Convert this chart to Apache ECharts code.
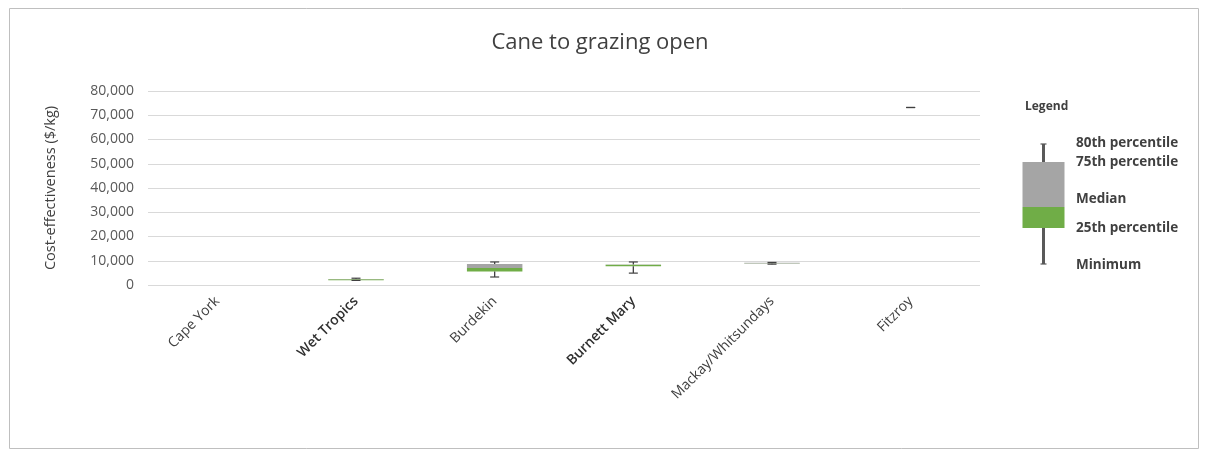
<!DOCTYPE html>
<html><head><meta charset="utf-8">
<script src="https://cdn.jsdelivr.net/npm/echarts@6/dist/echarts.min.js"></script>
<style>html,body{margin:0;padding:0;background:#fff}#c{width:1208px;height:450px}</style>
</head><body><div id="c"></div>
<script>
// ---- data ----
const categories = ['Cape York', 'Wet Tropics', 'Burdekin', 'Burnett Mary', 'Mackay/Whitsundays', 'Fitzroy'];
const minimum     = [null, 1900, 3300, 4900, 8600, 73200];
const pct25       = [null, 2000, 5600, 7700, 8750, 73200];
const median      = [null, 2400, 7000, 8400, 8900, 73200];
const pct75       = [null, 2500, 8700, 8500, 9150, 73200];
const pct80       = [null, 2800, 9500, 9500, 9300, 73200];
const boldLabels  = ['Wet Tropics', 'Burnett Mary'];
const yTicks = {min: 0, max: 80000, interval: 10000};
// legend illustration values (arbitrary scale)
const legendVals = {minimum: 0, pct25: 36, median: 57, pct75: 102, pct80: 120};
const legendLabels = ['80th percentile', '75th percentile', 'Median', '25th percentile', 'Minimum'];

const FONT = '"Open Sans", "Liberation Sans", sans-serif';
const GREY = '#a5a5a5', GREEN = '#70ad47', WHISK = '#404040';

function rows(mn, q1, md, q3, p8) {
  return mn.map((v, i) => [i, mn[i], q1[i], md[i], q3[i], p8[i]]);
}
const mainData = rows(minimum, pct25, median, pct75, pct80);
const legData = [[0, legendVals.minimum, legendVals.pct25, legendVals.median, legendVals.pct75, legendVals.pct80]];

function makeRender(capW, whiskW, whiskColor) {
  return function (params, api) {
    const v1 = api.value(1);
    if (v1 == null || isNaN(v1)) return null;
    const idx = api.value(0);
    const x = api.coord([idx, 0])[0];
    const w = api.size([1, 0])[0] * 0.4;
    const y = k => api.coord([idx, api.value(k)])[1];
    const yMin = y(1), yQ1 = y(2), yMed = y(3), yQ3 = y(4), yP8 = y(5);
    const ch = [];
    if (yQ1 - yMed > 0) ch.push({type: 'rect', shape: {x: x - w / 2, y: yMed, width: w, height: yQ1 - yMed}, style: {fill: GREEN}});
    if (yMed - yQ3 > 0) ch.push({type: 'rect', shape: {x: x - w / 2, y: yQ3, width: w, height: yMed - yQ3}, style: {fill: GREY}});
    const ls = {stroke: whiskColor, lineWidth: whiskW};
    ch.push({type: 'line', shape: {x1: x, y1: yMin, x2: x, y2: yQ1}, style: ls});
    ch.push({type: 'line', shape: {x1: x, y1: yQ3, x2: x, y2: yP8}, style: ls});
    ch.push({type: 'line', shape: {x1: x - capW / 2, y1: yMin, x2: x + capW / 2, y2: yMin}, style: {stroke: whiskColor, lineWidth: 1.2}});
    ch.push({type: 'line', shape: {x1: x - capW / 2, y1: yP8, x2: x + capW / 2, y2: yP8}, style: {stroke: whiskColor, lineWidth: 1.2}});
    return {type: 'group', children: ch};
  };
}

const chart = echarts.init(document.getElementById('c'), null, {renderer: 'canvas'});
const legendTextY = [143, 162, 199, 228, 265];
chart.setOption({
  animation: false,
  backgroundColor: '#fff',
  textStyle: {fontFamily: FONT},
  title: {
    text: 'Cane to grazing open', left: 595, top: 27, textAlign: 'center',
    textStyle: {fontFamily: FONT, fontSize: 22, fontWeight: 'normal', color: '#404040'}
  },
  grid: [
    {left: 148, right: 228, top: 91, bottom: 165},
    {left: 991, width: 105, top: 144, height: 120}
  ],
  xAxis: [
    {
      type: 'category', data: categories, gridIndex: 0,
      axisLine: {show: false}, axisTick: {show: false},
      axisLabel: {
        interval: 0, rotate: 45, fontSize: 14, color: '#404040', fontFamily: FONT, margin: 14,
        formatter: v => boldLabels.includes(v) ? '{b|' + v + '}' : v,
        rich: {b: {fontWeight: 600, fontSize: 14, color: '#303030', fontFamily: FONT}}
      }
    },
    {type: 'category', data: ['L'], gridIndex: 1, show: false}
  ],
  yAxis: [
    {
      type: 'value', gridIndex: 0, min: yTicks.min, max: yTicks.max, interval: yTicks.interval,
      name: 'Cost-effectiveness ($/kg)', nameLocation: 'middle', nameGap: 90, nameRotate: 90,
      nameTextStyle: {fontSize: 14.5, color: '#404040', fontFamily: FONT},
      axisLine: {show: false}, axisTick: {show: false},
      axisLabel: {fontSize: 14, color: '#595959', margin: 14, fontFamily: FONT,
        formatter: v => v.toLocaleString('en-US')},
      splitLine: {lineStyle: {color: '#d9d9d9', width: 1}}
    },
    {type: 'value', gridIndex: 1, min: 0, max: 120, show: false}
  ],
  series: [
    {
      type: 'custom', xAxisIndex: 0, yAxisIndex: 0, data: mainData,
      encode: {x: 0, y: [1, 2, 3, 4, 5]},
      renderItem: makeRender(9, 1.3, WHISK)
    },
    {
      type: 'custom', xAxisIndex: 1, yAxisIndex: 1, data: legData,
      encode: {x: 0, y: [1, 2, 3, 4, 5]},
      renderItem: makeRender(6, 3, '#595959')
    }
  ],
  graphic: [
    {type: 'rect', shape: {x: 9.5, y: 8.5, width: 1189, height: 440}, style: {fill: null, stroke: '#bfbfbf', lineWidth: 1}, silent: true},
    {type: 'text', left: 1025, top: 101, style: {text: 'Legend', font: 'bold 12px ' + FONT, fill: '#404040'}}
  ].concat(legendLabels.map((t, i) => ({
    type: 'text', x: 1076, y: legendTextY[i],
    style: {text: t, font: 'bold 13.5px ' + FONT, fill: '#404040', textVerticalAlign: 'middle'}
  })))
});
</script></body></html>
